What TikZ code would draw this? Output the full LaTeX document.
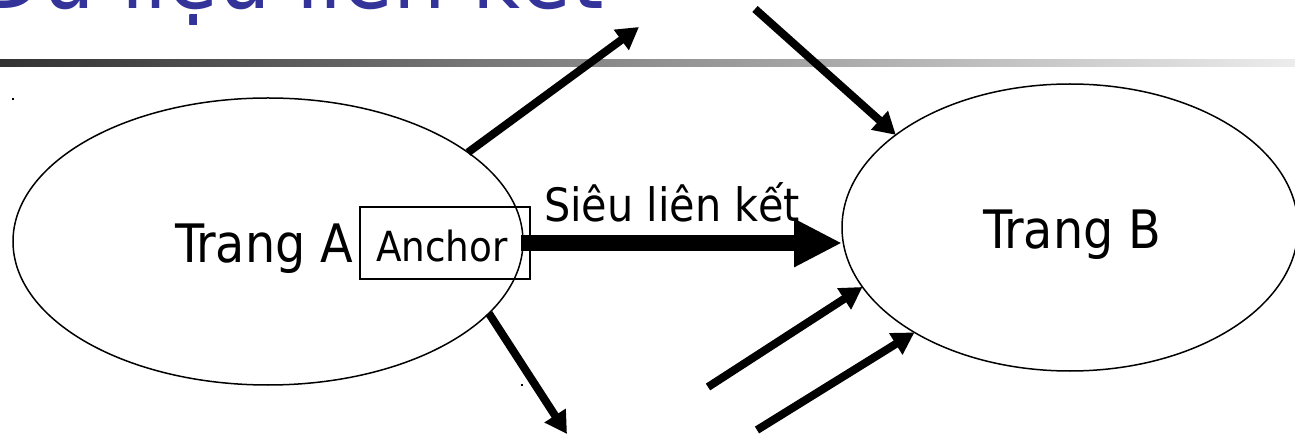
\documentclass[tikz,border=0pt]{standalone}
\usepackage{fontspec}
\setmainfont{DejaVu Sans Condensed}
\usetikzlibrary{shapes.geometric,arrows.meta}
\definecolor{titleblue}{RGB}{51,51,153}
\definecolor{barleft}{RGB}{50,50,50}
\definecolor{barright}{RGB}{236,236,236}
\begin{document}
\begin{tikzpicture}[x=1pt,y=-1pt,
  page/.style={draw, ellipse, line width=1.5pt, inner sep=0pt, outer sep=0pt, minimum height=287pt},
  lbl/.style={inner sep=0pt, outer sep=0pt, anchor=base west},
  link/.style={line width=8pt, -{Triangle[length=22pt,width=24pt]}},
  mainlink/.style={line width=16pt, -{Triangle[length=48pt,width=45pt]}},
  anchorbox/.style={draw, line width=1.5pt, inner sep=0pt, outer sep=0pt, minimum width=170pt, minimum height=72pt},
]
\useasboundingbox (0,0) rectangle (1295,435);
\clip (0,0) rectangle (1295,435);
% title (top cut off)
\node[lbl, anchor=base east, text=titleblue, font=\fontsize{92}{110}\selectfont] (title) at (604,9) {Dữ liệu liên kết};
\shade[left color=barleft, right color=barright] (0,60) rectangle (1295,67);
% pages
\node[page, minimum width=510pt] (A) at (268,241.5) {};
\node[page, minimum width=456pt] (B) at (1070,227.5) {};
\node[lbl, font=\fontsize{53}{64}\selectfont] (ta) at (175,263) {Trang A};
\node[lbl, font=\fontsize{53}{64}\selectfont] (tb) at (983,249) {Trang B};
\node[anchorbox] (box) at (445,243) {};
\node[lbl, font=\fontsize{41.5}{50}\selectfont] (anc) at (376,262) {Anchor};
\node[lbl, font=\fontsize{46}{55}\selectfont] (sl) at (544,222) {Siêu liên kết};
% free ends
\coordinate (o1) at (639,27);
\coordinate (i1) at (755,9);
\coordinate (o2) at (567,434);
\coordinate (i2) at (708,387);
\coordinate (i3) at (757,430);
% connectors
\draw[mainlink] ([xshift=-9pt]box.east) -- (B.west |- box.east);
\draw[link] (A.24.5) -- (o1);
\draw[link] (i1) -- (B.152);
\draw[link] (A.-18) -- (o2);
\draw[link] (i2) -- (B.196);
\draw[link] (i3) -- (B.214);
% tiny specks
\fill (12,98) rectangle (14,100);
\fill (521,384) rectangle (523,386);
\end{tikzpicture}
\end{document}
